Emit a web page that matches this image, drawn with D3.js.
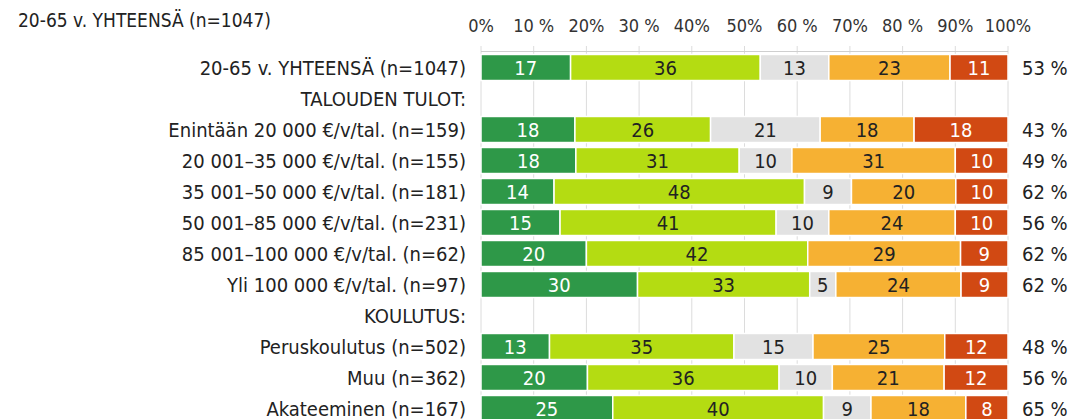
<!DOCTYPE html>
<html>
<head>
<meta charset="utf-8">
<script src="https://cdn.jsdelivr.net/npm/d3@7"></script>
<style>
  body { margin: 0; background: #fff; }
  text { font-family: "DejaVu Sans", sans-serif; font-stretch: condensed; }
</style>
</head>
<body>
<script>
// rivit ja arvot luettu kuvasta
const categories = [
  "20-65 v. YHTEENSÄ (n=1047)",
  "TALOUDEN TULOT:",
  "Enintään 20 000 €/v/tal. (n=159)",
  "20 001–35 000 €/v/tal. (n=155)",
  "35 001–50 000 €/v/tal. (n=181)",
  "50 001–85 000 €/v/tal. (n=231)",
  "85 001–100 000 €/v/tal. (n=62)",
  "Yli 100 000 €/v/tal. (n=97)",
  "KOULUTUS:",
  "Peruskoulutus (n=502)",
  "Muu (n=362)",
  "Akateeminen (n=167)"
];
const s1 = [17, null, 18, 18, 14, 15, 20, 30, null, 13, 20, 25];
const s2 = [36, null, 26, 31, 48, 41, 42, 33, null, 35, 36, 40];
const s3 = [13, null, 21, 10, 9, 10, 0, 5, null, 15, 10, 9];
const s4 = [23, null, 18, 31, 20, 24, 29, 24, null, 25, 21, 18];
const s5 = [11, null, 18, 10, 10, 10, 9, 9, null, 12, 12, 8];
const totals = ["53 %", null, "43 %", "49 %", "62 %", "56 %", "62 %", "62 %", null, "48 %", "56 %", "65 %"];
const ticks = [0, 10, 20, 30, 40, 50, 60, 70, 80, 90, 100];
const tickLabels = ["0%", "10 %", "20%", "30 %", "40%", "50%", "60 %", "70%", "80 %", "90%", "100%"];
const title = "20-65 v. YHTEENSÄ (n=1047)";

const colors = ["#2e9848", "#b4dc12", "#e2e2e2", "#f6b133", "#d14913"];
const textColors = ["#fff", "#222", "#222", "#222", "#fff"];

const W = 1091, H = 419;
const svg = d3.select("body").append("svg").attr("width", W).attr("height", H);

const x = d3.scaleLinear().domain([0, 100]).range([481, 1008]);
const y = d3.scaleBand().domain(d3.range(categories.length)).range([52, 424])
  .paddingInner(0.16).paddingOuter(0.08);
const mid = i => y(i) + y.bandwidth() / 2;

// otsikko
svg.append("text").text(title).attr("x", 18).attr("y", 27)
  .attr("font-size", 19).attr("fill", "#222");

// pystyviivat
svg.append("g").selectAll("line").data(ticks).enter().append("line")
  .attr("x1", d => x(d)).attr("x2", d => x(d))
  .attr("y1", 46).attr("y2", H)
  .attr("stroke", "#dcdcdc").attr("stroke-width", 1);

svg.append("line").attr("x1", x(0)).attr("x2", x(100)).attr("y1", 51.5).attr("y2", 51.5)
  .attr("stroke", "#cfcfcf");

svg.append("g").selectAll("text").data(ticks).enter().append("text")
  .attr("x", d => x(d)).attr("y", 32)
  .attr("text-anchor", "middle").attr("font-size", 18).attr("fill", "#333")
  .text((d, i) => tickLabels[i]);

// rivien nimet
svg.append("g").selectAll("text").data(categories).enter().append("text")
  .attr("x", 466).attr("y", (d, i) => mid(i) + 7)
  .attr("text-anchor", "end").attr("font-size", 20).attr("fill", "#222")
  .text(d => d);

const series = [s1, s2, s3, s4, s5];
const segs = [];
categories.forEach((c, i) => {
  if (s1[i] === null) return;
  const vals = series.map(s => s[i]);
  const sum = d3.sum(vals);
  let acc = 0;
  vals.forEach((v, k) => {
    if (v > 0) segs.push({ row: i, k: k, v: v, x0: acc / sum * 100, x1: (acc + v) / sum * 100 });
    acc += v;
  });
});

const g = svg.append("g");
g.selectAll("rect").data(segs).enter().append("rect")
  .attr("x", d => x(d.x0))
  .attr("width", d => x(d.x1) - x(d.x0))
  .attr("y", d => y(d.row))
  .attr("height", y.bandwidth())
  .attr("fill", d => colors[d.k])
  .attr("stroke", "#fff").attr("stroke-width", 1.5);

g.selectAll("text").data(segs).enter().append("text")
  .attr("x", d => (x(d.x0) + x(d.x1)) / 2)
  .attr("y", d => mid(d.row) + 7)
  .attr("text-anchor", "middle").attr("font-size", 20)
  .attr("fill", d => textColors[d.k])
  .text(d => d.v);

// oikean reunan summat
svg.append("g").selectAll("text").data(totals.map((t, i) => ({ t: t, i: i })).filter(d => d.t !== null))
  .enter().append("text")
  .attr("x", 1022).attr("y", d => mid(d.i) + 7)
  .attr("font-size", 20).attr("fill", "#222")
  .text(d => d.t);
</script>
</body>
</html>
